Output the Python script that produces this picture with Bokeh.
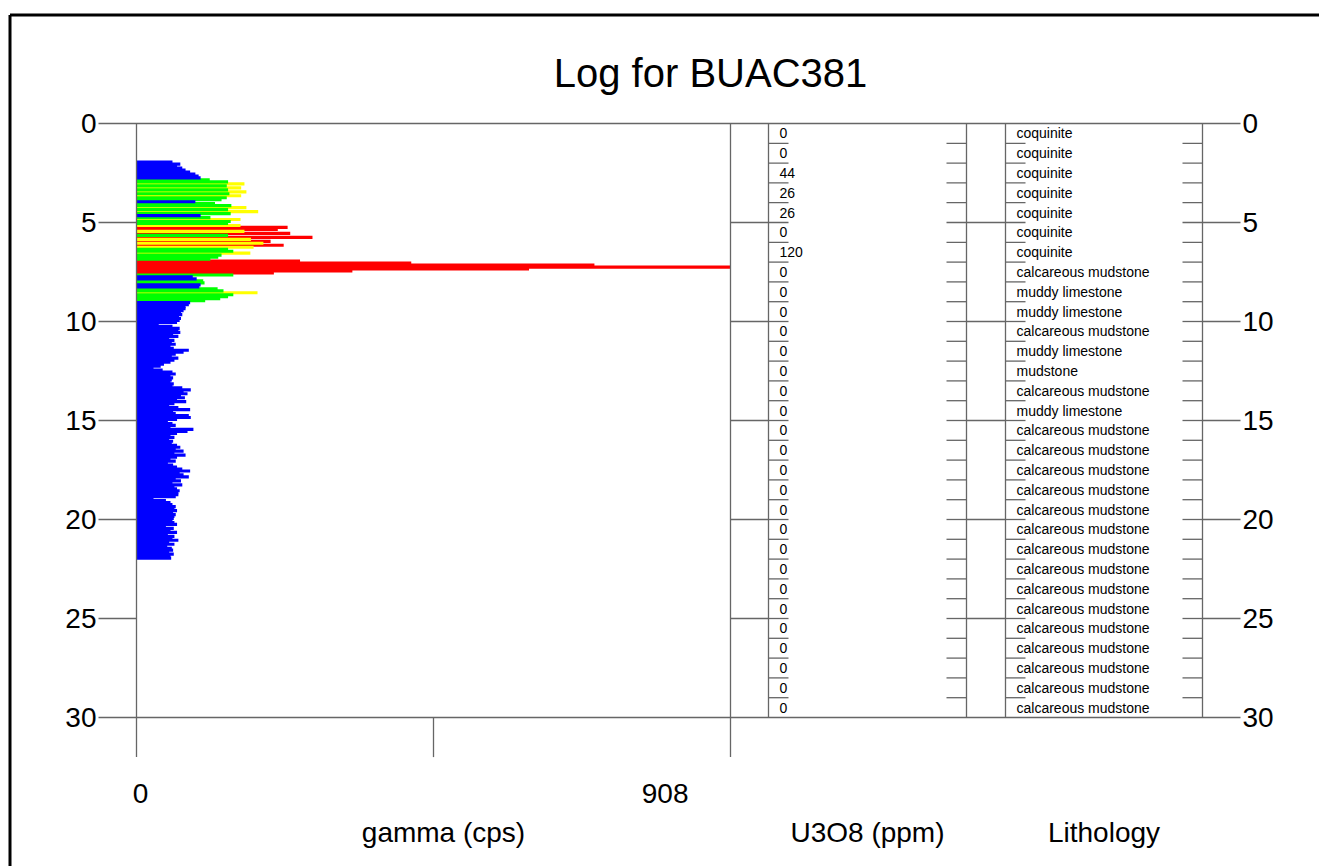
from bokeh.plotting import figure
from bokeh.models import Range1d, ColumnDataSource
from bokeh.embed import file_html
from bokeh.resources import INLINE
from bokeh.core.properties import value

# ---------------- data ----------------
title_text = "Log for BUAC381"
borehole = "BUAC381"

gamma_start_depth = 1.9   # m, first gamma sample
gamma_step = 0.1          # m, sample spacing
gamma_cps = [
    55, 67, 62, 70, 75, 82, 90, 95, 98, 112,            # 1.9 - 2.8
    140, 165, 138, 160, 140, 168, 142, 160, 138, 130,   # 2.9 - 3.8
    90, 120, 145, 168, 140, 186, 144, 98, 113, 159,     # 3.9 - 4.8
    144, 140, 159, 231, 216, 165, 235, 140, 269, 175,   # 4.9 - 5.8
    205, 194, 225, 179, 140, 148, 174, 130, 125, 113,   # 5.9 - 6.8
    250, 420, 700, 908, 600, 330, 210, 148, 86, 92,     # 6.9 - 7.8
    102, 104, 98, 96, 124, 133, 185, 148, 140, 128,     # 7.9 - 8.8
    105,                                                # 8.9
    82, 80, 75, 75, 72, 68, 70, 65, 68, 66,             # 9.0 - 9.9
    62, 34, 55, 66, 64, 67, 56, 64, 50, 58,             # 10.0 - 10.9
    54, 60, 52, 57, 80, 72, 60, 54, 64, 58,             # 11.0 - 11.9
    52, 42, 37, 26, 40, 55, 60, 52, 56, 54,             # 12.0 - 12.9
    52, 57, 55, 70, 83, 72, 78, 68, 74, 62,             # 13.0 - 13.9
    76, 58, 50, 64, 82, 56, 60, 80, 83, 62,             # 14.0 - 14.9
    48, 55, 60, 52, 87, 78, 62, 52, 58, 50,             # 15.0 - 15.9
    56, 54, 62, 67, 60, 72, 58, 75, 62, 52,             # 16.0 - 16.9
    60, 48, 56, 62, 70, 82, 66, 72, 80, 60,             # 17.0 - 17.9
    68, 55, 70, 58, 62, 66, 64, 64, 60, 26,             # 18.0 - 18.9
    45, 52, 55, 60, 58, 62, 56, 60, 58, 57,             # 19.0 - 19.9
    55, 58, 62, 45, 57, 52, 62, 48, 58, 55,             # 20.0 - 20.9
    64, 50, 58, 47, 54, 56, 50, 57, 52, 53,             # 21.0 - 21.9
]
gamma_max = 908
gamma_tick_labels = [0, 908]
gamma_class_limits = [100, 150, 200]
gamma_class_colors = ["#0000FF", "#00FF00", "#FFFF00", "#FF0000"]

depth_ticks = [0, 5, 10, 15, 20, 25, 30]

interval_top = [0, 1, 2, 3, 4, 5, 6, 7, 8, 9, 10, 11, 12, 13, 14,
                15, 16, 17, 18, 19, 20, 21, 22, 23, 24, 25, 26, 27, 28, 29]
interval_bottom = [1, 2, 3, 4, 5, 6, 7, 8, 9, 10, 11, 12, 13, 14, 15,
                   16, 17, 18, 19, 20, 21, 22, 23, 24, 25, 26, 27, 28, 29, 30]
u3o8_ppm = [0, 0, 44, 26, 26, 0, 120, 0, 0, 0, 0, 0, 0, 0, 0,
            0, 0, 0, 0, 0, 0, 0, 0, 0, 0, 0, 0, 0, 0, 0]
lithology = [
    "coquinite", "coquinite", "coquinite", "coquinite", "coquinite",
    "coquinite", "coquinite", "calcareous mudstone", "muddy limestone",
    "muddy limestone", "calcareous mudstone", "muddy limestone", "mudstone",
    "calcareous mudstone", "muddy limestone",
    "calcareous mudstone", "calcareous mudstone", "calcareous mudstone",
    "calcareous mudstone", "calcareous mudstone", "calcareous mudstone",
    "calcareous mudstone", "calcareous mudstone", "calcareous mudstone",
    "calcareous mudstone", "calcareous mudstone", "calcareous mudstone",
    "calcareous mudstone", "calcareous mudstone", "calcareous mudstone",
]

# ---------------- layout (page pixels) ----------------
W, H = 1319, 866
PAGE_X0, PAGE_Y0 = 0, 0
DEPTH0_PX = 123.0
PX_PER_M = 19.8
GAMMA_L, GAMMA_R = 136.0, 730.0
AX_L, AX_R = 98, 1240
U_L, U_R = 768, 966
L_L, L_R = 1005, 1202
ITICK = 20
LINE_C = "#666666"
FONT = value("Liberation Sans")

depth_bottom = (PAGE_Y0 + H - DEPTH0_PX) / PX_PER_M
depth_top = (PAGE_Y0 - DEPTH0_PX) / PX_PER_M
k = gamma_max / (GAMMA_R - GAMMA_L)

p = figure(width=W, height=H, output_backend="svg", toolbar_location=None,
           x_axis_location=None, y_axis_location=None, min_border=0,
           x_range=Range1d(PAGE_X0, PAGE_X0 + W),
           y_range=Range1d(depth_bottom, depth_top))
p.extra_x_ranges = {"gamma": Range1d((PAGE_X0 - GAMMA_L) * k, (PAGE_X0 + W - GAMMA_L) * k)}
p.extra_y_ranges = {"px": Range1d(PAGE_Y0 + H, PAGE_Y0)}
p.outline_line_color = None
p.grid.visible = False
p.background_fill_color = "white"
p.border_fill_color = "white"

# ---------------- gamma bars ----------------
def gclass(v):
    c = 0
    for lim in gamma_class_limits:
        if v >= lim:
            c += 1
    return gamma_class_colors[c]

rows = []
for i, v in enumerate(gamma_cps):
    d = gamma_start_depth + i * gamma_step
    rows.append((v, d + gamma_step / 2, gclass(v)))
rows.sort(key=lambda r: -r[0])  # longer bars first, shorter drawn on top
src = ColumnDataSource(dict(right=[r[0] for r in rows], y=[r[1] for r in rows],
                            color=[r[2] for r in rows]))
p.hbar(y="y", left=0, right="right", height=gamma_step * 1.6, source=src,
       fill_color="color", line_color=None, x_range_name="gamma")

# ---------------- frame lines ----------------
p.segment(x0=[9.5, 9.5], y0=[14.5, 14.5], x1=[PAGE_X0 + W, 9.5], y1=[14.5, PAGE_Y0 + H],
          y_range_name="px", line_color="black", line_width=3)

# full depth lines at top/bottom
p.segment(x0=[AX_L, AX_L], x1=[AX_R, AX_R], y0=[depth_ticks[0], depth_ticks[-1]],
          y1=[depth_ticks[0], depth_ticks[-1]], line_color=LINE_C, line_width=1.5)
# depth ticks in each gap
gx = [(AX_L, GAMMA_L), (GAMMA_R, U_L), (U_R, L_L), (L_R, AX_R)]
x0s, x1s, ys = [], [], []
for d in depth_ticks[1:-1]:
    for a, b in gx:
        x0s.append(a); x1s.append(b); ys.append(d)
p.segment(x0=x0s, x1=x1s, y0=ys, y1=ys, line_color=LINE_C, line_width=1.3)

# gamma track verticals
p.segment(x0=[0, gamma_max], x1=[0, gamma_max], y0=[0, 0], y1=[32, 32],
          x_range_name="gamma", line_color=LINE_C, line_width=1.3)
p.segment(x0=[gamma_max / 2], x1=[gamma_max / 2], y0=[30], y1=[32],
          x_range_name="gamma", line_color=LINE_C, line_width=1.3)

# boxes for U3O8 and lithology
p.segment(x0=[U_L, U_R, L_L, L_R], x1=[U_L, U_R, L_L, L_R], y0=[0] * 4, y1=[30] * 4,
          line_color=LINE_C, line_width=1.3)

# interval ticks
bx0, bx1, by = [], [], []
for b in interval_bottom[:-1]:
    for a, c in [(U_L, U_L + ITICK), (U_R - ITICK, U_R), (L_L, L_L + ITICK), (L_R - ITICK, L_R)]:
        bx0.append(a); bx1.append(c); by.append(b)
p.segment(x0=bx0, x1=bx1, y0=by, y1=by, line_color=LINE_C, line_width=1.3)

# ---------------- texts ----------------
mid = [(t + b) / 2 for t, b in zip(interval_top, interval_bottom)]
p.text(x=[U_L + 11] * len(mid), y=mid, text=[str(v) for v in u3o8_ppm],
       text_font=FONT, text_font_size="14px", text_baseline="middle", text_align="left",
       text_color="black")
p.text(x=[L_L + 11] * len(mid), y=mid, text=lithology,
       text_font=FONT, text_font_size="14px", text_baseline="middle", text_align="left",
       text_color="black")

p.text(x=[AX_L - 2] * len(depth_ticks), y=depth_ticks, text=[str(d) for d in depth_ticks],
       text_font=FONT, text_font_size="28px", text_baseline="middle", text_align="right",
       text_color="black")
p.text(x=[AX_R + 2] * len(depth_ticks), y=depth_ticks, text=[str(d) for d in depth_ticks],
       text_font=FONT, text_font_size="28px", text_baseline="middle", text_align="left",
       text_color="black")

p.text(x=[gamma_tick_labels[0]], y=[793], text=[str(gamma_tick_labels[0])], x_offset=4,
       x_range_name="gamma", y_range_name="px", text_font=FONT, text_font_size="28px",
       text_baseline="middle", text_align="center", text_color="black")
p.text(x=[gamma_tick_labels[1]], y=[793], text=[str(gamma_tick_labels[1])], x_offset=-42,
       x_range_name="gamma", y_range_name="px", text_font=FONT, text_font_size="28px",
       text_baseline="middle", text_align="right", text_color="black")

p.text(x=[443, (U_L + U_R) / 2, (L_L + L_R) / 2], y=[832] * 3,
       text=["gamma (cps)", "U3O8 (ppm)", "Lithology"], y_range_name="px",
       text_font=FONT, text_font_size="28px", text_baseline="middle", text_align="center",
       text_color="black")

p.text(x=[710], y=[72], text=[title_text], y_range_name="px", text_font=FONT,
       text_font_size="40px", text_baseline="middle", text_align="center", text_color="black")

open("out.html", "w").write(file_html(p, INLINE))
